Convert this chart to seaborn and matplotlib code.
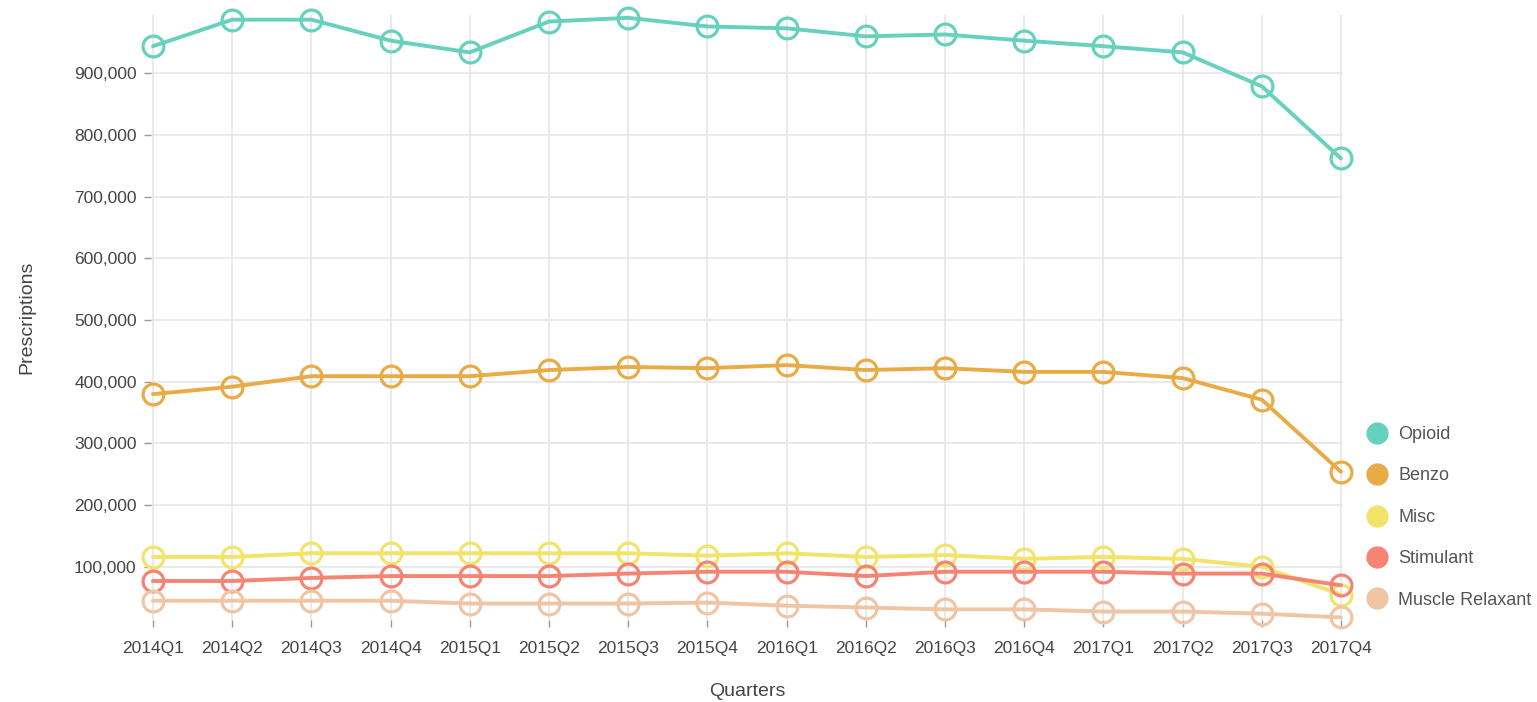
import pandas as pd
import matplotlib.pyplot as plt
import matplotlib.ticker as mticker
from matplotlib.lines import Line2D
import seaborn as sns

quarters = ['2014Q1', '2014Q2', '2014Q3', '2014Q4', '2015Q1', '2015Q2', '2015Q3', '2015Q4',
            '2016Q1', '2016Q2', '2016Q3', '2016Q4', '2017Q1', '2017Q2', '2017Q3', '2017Q4']

opioid = [944000, 987000, 987000, 953000, 934000, 984000, 990000, 976000,
          973000, 960000, 963000, 953000, 944000, 934000, 879000, 762000]
benzo = [380000, 392000, 409000, 409000, 409000, 419000, 424000, 422000,
         427000, 419000, 422000, 416000, 416000, 406000, 371000, 254000]
misc = [116000, 116000, 122000, 122000, 122000, 122000, 122000, 118000,
        122000, 116000, 119000, 113000, 116000, 113000, 100000, 55000]
stimulant = [77000, 77000, 82000, 85000, 85000, 85000, 89000, 92000,
             92000, 85000, 92000, 92000, 92000, 89000, 89000, 70000]
muscle = [45000, 45000, 45000, 45000, 40500, 40500, 40500, 42000,
          37000, 34000, 31000, 31000, 27500, 27500, 24000, 18000]

drugs = ['Opioid', 'Benzo', 'Misc', 'Stimulant', 'Muscle Relaxant']
colors = ['#66d1be', '#e9ab45', '#f2e36a', '#f58473', '#efc5a4']
values = [opioid, benzo, misc, stimulant, muscle]

sns.set_style('white')
plt.rcParams['font.family'] = ['Liberation Sans', 'DejaVu Sans']

fig = plt.figure(figsize=(15.37, 7.02), dpi=100)
ax = fig.add_axes([0.098, 0.117, 0.776, 0.862])

for name, col, vals in zip(drugs, colors, values):
    df = pd.DataFrame({'Quarters': quarters, 'Prescriptions': vals})
    sns.lineplot(data=df, x='Quarters', y='Prescriptions', ax=ax, color=col,
                 linewidth=2.8, marker='o', markersize=15, markerfacecolor='none',
                 markeredgecolor=col, markeredgewidth=2.3, zorder=3, clip_on=False)

ax.set_xlim(-0.03, 15.03)
ax.set_ylim(14000, 995000)
ax.yaxis.set_major_locator(mticker.MultipleLocator(100000))
ax.yaxis.set_major_formatter(mticker.FuncFormatter(lambda v, p: f'{int(v):,}'))

ax.grid(True, color='#e6e6e6', linewidth=1.2)
for s in ax.spines.values():
    s.set_visible(False)
ax.tick_params(axis='both', length=5, width=1, color='#999999', labelcolor='#444444',
               labelsize=12.5, direction='out', left=True, bottom=True)
ax.tick_params(axis='x', pad=10)
ax.tick_params(axis='y', pad=5)

ax.set_xlabel('Quarters', fontsize=14, color='#444444', labelpad=20)
ax.set_ylabel('Prescriptions', fontsize=14, color='#444444', labelpad=28)

handles = [Line2D([0], [0], marker='o', linestyle='none', markersize=15,
                  markerfacecolor=c, markeredgecolor=c) for c in colors]
leg = fig.legend(handles, drugs, loc='center left', bbox_to_anchor=(0.884, 0.263),
                 frameon=False, fontsize=13, labelspacing=1.35, handletextpad=0.2,
                 borderpad=0, borderaxespad=0)
for t in leg.get_texts():
    t.set_color('#555555')

plt.savefig('out.png', dpi=100)
